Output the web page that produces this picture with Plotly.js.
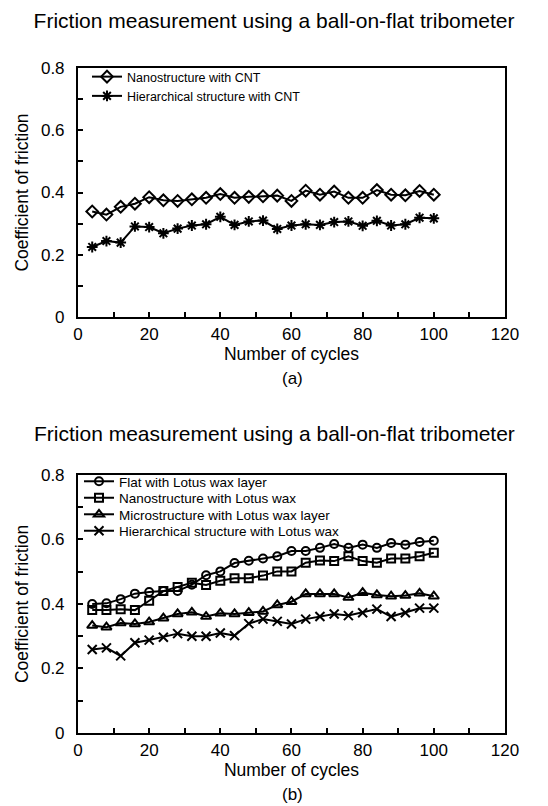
<!DOCTYPE html>
<html>
<head>
<meta charset="utf-8">
<script src="https://cdn.plot.ly/plotly-3.0.1.min.js"></script>
<style>html,body{margin:0;padding:0;background:#fff;}#chart{width:548px;height:806px;}</style>
</head>
<body>
<div id="chart"></div>
<script>
const cycles = [4,8,12,16,20,24,28,32,36,40,44,48,52,56,60,64,68,72,76,80,84,88,92,96,100];

// Panel (a)
const nanoCNT = [0.339,0.329,0.354,0.364,0.385,0.375,0.373,0.378,0.383,0.395,0.383,0.386,0.388,0.390,0.373,0.406,0.393,0.403,0.383,0.383,0.408,0.393,0.391,0.405,0.393];
const hierCNT = [0.225,0.244,0.239,0.291,0.289,0.269,0.284,0.294,0.298,0.322,0.296,0.307,0.310,0.283,0.294,0.298,0.296,0.305,0.307,0.293,0.309,0.294,0.298,0.319,0.317];

// Panel (b)
const flatWax  = [0.400,0.402,0.415,0.432,0.437,0.440,0.440,0.460,0.489,0.501,0.527,0.534,0.541,0.548,0.564,0.564,0.574,0.586,0.574,0.584,0.574,0.589,0.584,0.592,0.596];
const nanoWax  = [0.381,0.381,0.384,0.381,0.410,0.440,0.453,0.466,0.459,0.472,0.480,0.480,0.488,0.501,0.501,0.528,0.535,0.533,0.548,0.533,0.528,0.541,0.541,0.548,0.559];
const microWax = [0.333,0.328,0.341,0.338,0.344,0.356,0.369,0.374,0.361,0.371,0.369,0.373,0.377,0.397,0.407,0.431,0.431,0.431,0.420,0.435,0.428,0.424,0.426,0.433,0.424];
const hierWax  = [0.259,0.264,0.239,0.280,0.288,0.297,0.308,0.300,0.300,0.310,0.302,0.339,0.353,0.346,0.338,0.353,0.361,0.369,0.364,0.373,0.384,0.361,0.373,0.387,0.387];

const xTicks = [0,20,40,60,80,100,120];
const yTicks = [0,0.2,0.4,0.6,0.8];
const yTickText = ['0','0.2','0.4','0.6','0.8'];
const titleText = 'Friction measurement using a ball-on-flat tribometer';
const FONT = 'Liberation Sans, Arial, sans-serif';

function tr(x, y, name, symbol, size, xa, ya, leg){
  return {x: x, y: y, name: name, type: 'scatter', mode: 'lines+markers',
    xaxis: xa, yaxis: ya, legend: leg,
    line: {color: '#000', width: 2},
    marker: {symbol: symbol, size: size, color: '#000', line: {color: '#000', width: 2}}};
}

const data = [
  tr(cycles, nanoCNT, 'Nanostructure with CNT', 'diamond-open', 9, 'x', 'y', 'legend'),
  tr(cycles, hierCNT, 'Hierarchical structure with CNT', 'asterisk-open', 9, 'x', 'y', 'legend'),
  tr(cycles, flatWax, 'Flat with Lotus wax layer', 'circle-open', 8, 'x2', 'y2', 'legend2'),
  tr(cycles, nanoWax, 'Nanostructure with Lotus wax', 'square-open', 8, 'x2', 'y2', 'legend3'),
  tr(cycles, microWax, 'Microstructure with Lotus wax layer', 'triangle-up-open', 9, 'x2', 'y2', 'legend4'),
  tr(cycles, hierWax, 'Hierarchical structure with Lotus wax', 'x-thin-open', 9, 'x2', 'y2', 'legend5')
];

function xAxis(dom, anchor){
  return {domain: dom, anchor: anchor, range: [0,120], tickvals: xTicks,
    ticks: 'inside', ticklen: 5, tickwidth: 2, tickcolor: '#000',
    minor: {dtick: 10, tick0: 0, ticks: 'inside', ticklen: 5, tickwidth: 2, tickcolor: '#000'},
    showline: true, linecolor: '#000', linewidth: 2, mirror: true,
    showgrid: false, zeroline: false, ticklabelstandoff: 1,
    tickfont: {family: FONT, size: 17, color: '#000'},
    title: {text: 'Number of cycles', font: {family: FONT, size: 17.5, color: '#000'}, standoff: 0}};
}
function yAxis(dom, anchor){
  return {domain: dom, anchor: anchor, range: [0,0.8], tickvals: yTicks, ticktext: yTickText,
    ticks: 'inside', ticklen: 5, tickwidth: 2, tickcolor: '#000',
    minor: {dtick: 0.1, tick0: 0, ticks: 'inside', ticklen: 5, tickwidth: 2, tickcolor: '#000'},
    showline: true, linecolor: '#000', linewidth: 2, mirror: true,
    showgrid: false, zeroline: false, ticklabelstandoff: 8,
    tickfont: {family: FONT, size: 17, color: '#000'},
    title: {text: 'Coefficient of friction', font: {family: FONT, size: 17.5, color: '#000'}, standoff: 8}};
}
function leg(xpx, ypx, size){
  return {x: xpx/548, y: 1 - ypx/806, xanchor: 'left', yanchor: 'middle', bgcolor: 'rgba(0,0,0,0)',
    font: {family: FONT, size: size, color: '#000'}, borderwidth: 0, itemwidth: 30, tracegroupgap: 0};
}

const layout = {
  width: 548, height: 806,
  margin: {l: 0, r: 0, t: 0, b: 0},
  paper_bgcolor: '#fff', plot_bgcolor: '#fff',
  font: {family: FONT, color: '#000'},
  showlegend: true,
  title: {text: titleText, font: {family: FONT, size: 21, color: '#000'},
    x: 0.5, xanchor: 'center', xref: 'paper', y: 1 - 21/806, yanchor: 'middle', yref: 'paper'},
  xaxis: xAxis([0.1423, 0.9215], 'y'),
  yaxis: yAxis([0.6067, 0.9156], 'x'),
  xaxis2: xAxis([0.1423, 0.9215], 'y2'),
  yaxis2: yAxis([0.0906, 0.4107], 'x2'),
  legend: {x: 87/548, y: 1 - 62/806, xanchor: 'left', yanchor: 'top', bgcolor: 'rgba(0,0,0,0)',
    font: {family: FONT, size: 12.5, color: '#000'}, borderwidth: 0, itemwidth: 30, tracegroupgap: 0},
  legend2: leg(79, 481.5, 13.5),
  legend3: leg(79, 498, 13.5),
  legend4: leg(79, 514.5, 13.5),
  legend5: leg(79, 531, 13.5),
  annotations: [
    {text: titleText, xref: 'paper', yref: 'paper', x: 0.5, y: 1 - 433/806, xanchor: 'center', yanchor: 'middle',
     showarrow: false, font: {family: FONT, size: 21, color: '#000'}},
    {text: '(a)', xref: 'paper', yref: 'paper', x: 292/548, y: 1 - 379/806, xanchor: 'center', yanchor: 'middle',
     showarrow: false, font: {family: FONT, size: 17, color: '#000'}},
    {text: '(b)', xref: 'paper', yref: 'paper', x: 292/548, y: 1 - 794/806, xanchor: 'center', yanchor: 'middle',
     showarrow: false, font: {family: FONT, size: 17, color: '#000'}}
  ]
};

Plotly.newPlot('chart', data, layout, {displayModeBar: false, staticPlot: true});
</script>
</body>
</html>
